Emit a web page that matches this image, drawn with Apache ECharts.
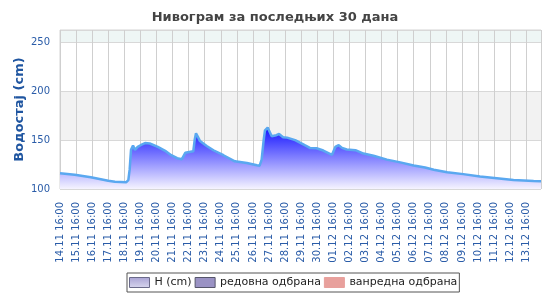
<!DOCTYPE html>
<html><head><meta charset="utf-8">
<script src="https://cdn.jsdelivr.net/npm/echarts@6/dist/echarts.min.js"></script>
<style>html,body{margin:0;padding:0;background:#fff}#c{width:550px;height:300px}</style>
</head><body><div id="c"></div>
<script>
const xLabels = ['14.11 16:00','15.11 16:00','16.11 16:00','17.11 16:00','18.11 16:00','19.11 16:00','20.11 16:00','21.11 16:00','22.11 16:00','23.11 16:00','24.11 16:00','25.11 16:00','26.11 16:00','27.11 16:00','28.11 16:00','29.11 16:00','30.11 16:00','01.12 16:00','02.12 16:00','03.12 16:00','04.12 16:00','05.12 16:00','06.12 16:00','07.12 16:00','08.12 16:00','09.12 16:00','10.12 16:00','11.12 16:00','12.12 16:00','13.12 16:00'];
// hours since 14.11 16:00
const hours = [0,22,46,72,82,99,102,104,106,109,112,116,121,127,134,146,157,166,175,182,187,199,201,203,206,209,219,229,244,261,279,294,298,301,304,306,310,316,323,327,333,339,351,366,373,383,393,406,408,411,416,421,428,441,453,468,488,508,528,545,558,578,602,627,652,677,707,718];
const levels = [116,114.5,112,108.5,107.5,107,109,120,140,144.5,140,143,145,147,146.5,143,139,134.5,131.5,130.5,137,138.6,150,157,153,149,144,139.6,134.5,128.3,126.6,124.2,123.8,130,150,160,162.8,154,155,156.2,153,152.5,150,144.5,142,141.7,139.3,135,137,143,144.8,142,140.4,139.7,136.2,134,130,127.2,124.1,122,119.7,117.2,115.2,112.7,111,109.3,108.3,108];
const yTicks = [100,150,200,250];
const seriesNames = ['H (cm)','редовна одбрана','ванредна одбрана'];

const data = hours.map((h,i)=>[h,levels[i]]);
const font = 'DejaVu Sans';
const chart = echarts.init(document.getElementById('c'));
chart.setOption({
  animation:false,
  title:{text:'Нивограм за последњих 30 дана',left:'center',top:6,
    textStyle:{fontFamily:font,fontSize:13,fontWeight:'bold',color:'#444'}},
  grid:{left:60,right:9,top:30,bottom:111,show:true,borderColor:'#d4d4d4',borderWidth:1,
    outerBoundsMode:'none',containLabel:false},
  xAxis:{type:'value',min:0,max:718,interval:24,
    axisLine:{show:false},axisTick:{show:false},
    splitLine:{show:true,lineStyle:{color:'#cfcfcf',width:1}},
    axisLabel:{rotate:90,margin:13,fontFamily:font,fontSize:10,color:'#2a5ca8',
      showMaxLabel:false,
      formatter:v=>{const i=Math.round(v/24);return (v%24===0&&i<xLabels.length)?xLabels[i]:'';}}},
  yAxis:{type:'value',min:100,max:262.5,interval:50,
    name:'Водостај (cm)',nameLocation:'middle',nameGap:34,nameMoveOverlap:false,
    nameTextStyle:{fontFamily:font,fontSize:13,fontWeight:'bold',color:'#1f55a0'},
    axisLine:{show:false},axisTick:{show:false},
    splitLine:{show:true,lineStyle:{color:'#d8d8d8'}},
    splitArea:{show:true,areaStyle:{color:['#ffffff','#f2f2f2','#ffffff','#eef6f5']}},
    axisLabel:{margin:10,fontFamily:font,fontSize:10,color:'#2a5ca8',showMaxLabel:false,
      formatter:v=>yTicks.indexOf(v)>=0?String(v):''}},
  legend:{left:127,top:273,padding:[4,2],itemGap:3,itemWidth:20,itemHeight:10,
    borderColor:'#555',borderWidth:1,
    textStyle:{fontFamily:font,fontSize:11,color:'#222'},
    data:[
      {name:seriesNames[0],icon:'rect',itemStyle:{color:new echarts.graphic.LinearGradient(0,0,0,1,[{offset:0,color:'#a8a2d4'},{offset:1,color:'#d8d6ee'}]),borderColor:'#6a6a8a',borderWidth:1}},
      {name:seriesNames[1],icon:'rect',itemStyle:{color:'#9a92c4',borderColor:'#55556a',borderWidth:1}},
      {name:seriesNames[2],icon:'rect',itemStyle:{color:'#e8a09c',borderColor:'#e8a09c',borderWidth:1}}
    ]},
  series:[
    {name:seriesNames[0],type:'line',data:data,showSymbol:false,
      lineStyle:{color:'#5aa8f0',width:2.5},itemStyle:{color:'#a8a2d4'},
      areaStyle:{opacity:1,color:new echarts.graphic.LinearGradient(0,0,0,1,[{offset:0,color:'#1212ff'},{offset:1,color:'#f6f4ff'}])}},
    {name:seriesNames[1],type:'line',data:[],itemStyle:{color:'#9a92c4'}},
    {name:seriesNames[2],type:'line',data:[],itemStyle:{color:'#e8a09c'}}
  ]
});
</script></body></html>
